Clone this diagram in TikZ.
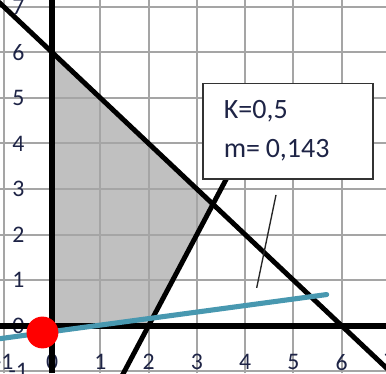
\documentclass[tikz,border=0pt]{standalone}
\usepackage{fontspec}
\setmainfont{Carlito}
\usetikzlibrary{calc}
\definecolor{gridgray}{RGB}{165,165,165}
\definecolor{areagray}{RGB}{192,192,192}
\definecolor{lineteal}{RGB}{72,152,176}
\definecolor{ticknavy}{RGB}{30,36,70}

\begin{document}
\begin{tikzpicture}[x=1cm, y=0.944cm,
    gridline/.style={gridgray, line width=1.2pt},
    axisline/.style={black, line width=3.4pt},
    boundline/.style={black, line width=2.9pt},
    ticklabel/.style={font=\fontsize{14}{14}\selectfont, text=ticknavy, inner sep=0pt},
    infobox/.style={draw=black!80, fill=white, line width=1pt, align=left,
        text width=2.66cm, inner xsep=0.43cm, minimum height=1.97cm,
        font=\fontsize{16.5}{23}\selectfont, text=ticknavy}]
    % Frame of the chart
    \def\xmin{-1.08}
    \def\xmax{6.92}
    \def\ymin{-1.05}
    \def\ymax{7.15}
    \useasboundingbox (\xmin,\ymin) rectangle (\xmax,\ymax);
    \clip (\xmin,\ymin) rectangle (\xmax,\ymax);
    % Feasible region (grey)
    \fill[areagray] (0,0) -- (0,6) -- ({10/3},{8/3}) -- (2,0) -- cycle;
    % Grid
    \foreach \gx in {-1,...,7}
        \draw[gridline] (\gx,\ymin) -- (\gx,\ymax);
    \foreach \gy in {-1,...,7}
        \draw[gridline] (\xmin,\gy) -- (\xmax,\gy);
    % Tick labels
    \foreach \gx in {-1,...,7}
        \node[ticklabel] (xtick\gx) at (\gx,-0.8) {\gx};
    \foreach \gy in {-1,...,7}
        \node[ticklabel] (ytick\gy) at (-0.7,\gy) {\gy};
    % Axes
    \draw[axisline] (\xmin,0) -- (\xmax,0);
    \draw[axisline] (0,\ymin) -- (0,\ymax);
    % Constraint x+y=6
    \coordinate (diagA) at (-1.3,7.3);
    \coordinate (diagB) at (7.3,-1.3);
    \draw[boundline] (diagA) -- (diagB);
    % Constraint 2x-y=4 (runs under the box)
    \coordinate (steepA) at (1.45,-1.1);
    \coordinate (steepB) at (4.2,4.4);
    \draw[boundline] (steepA) -- (steepB);
    % Fitted line, slope 0.143
    \coordinate (fitA) at (-1.08,-0.285);
    \coordinate (fitB) at (5.69,0.683);
    \draw[lineteal, line width=3pt, line cap=round] (fitA) -- (fitB);
    % Thin stroke
    \coordinate (tickA) at (4.64,2.87);
    \coordinate (tickB) at (4.24,0.83);
    \draw[black!85, line width=0.8pt] (tickA) -- (tickB);
    % Red point
    \fill[red] (-0.2,-0.15) circle (0.33cm);
    % Parameters
    \node[infobox] (params) at (4.89,4.27) {K=0,5\\m=\hspace{3.3pt}0,143};
\end{tikzpicture}
\end{document}
